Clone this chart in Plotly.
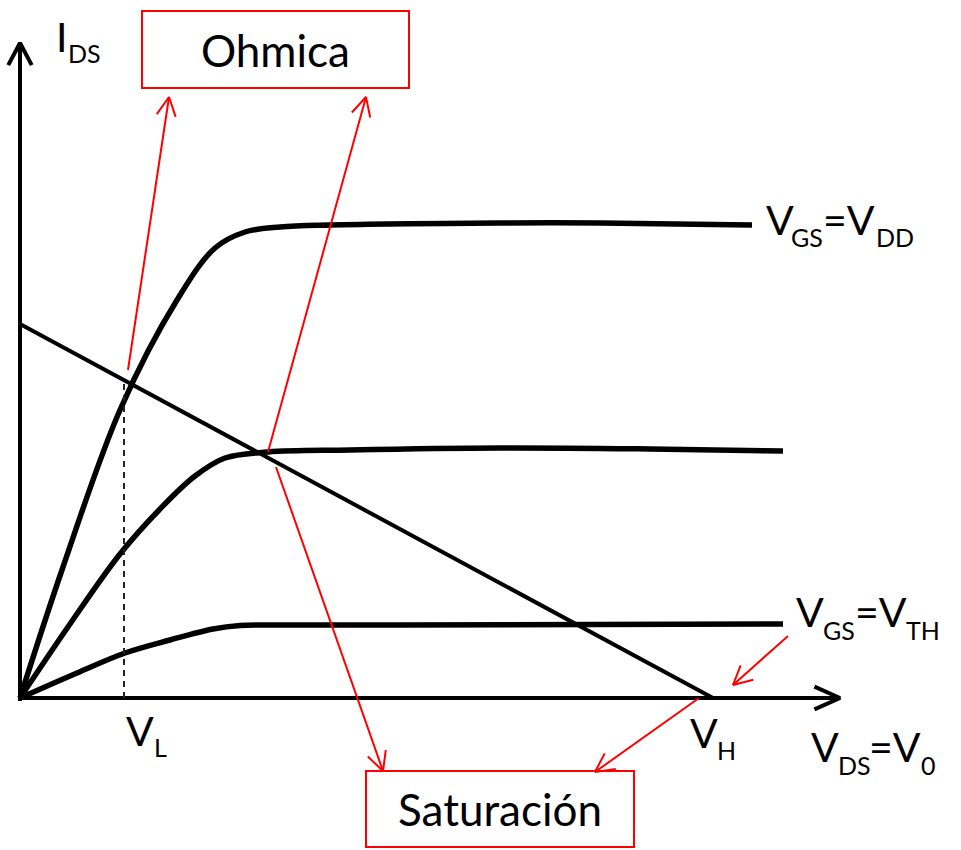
import math
import plotly.graph_objects as go

FONT = "Lato"

# Output characteristics I_DS(V_DS) for three gate voltages (arbitrary units)
vds_dd = [0, 4.3, 10.0, 15.7, 19.5, 22.5, 26.0, 31.0, 48.0, 58.0, 73.2]
ids_dd = [0, 13.1, 28.8, 39.8, 45.0, 46.6, 47.1, 47.3, 47.5, 47.5, 47.3]

vds_mid = [0, 5.0, 10.0, 14.0, 17.5, 20.5, 24.8, 33.0, 48.0, 63.0, 76.3]
ids_mid = [0, 7.4, 14.4, 18.9, 22.2, 24.0, 24.6, 24.8, 25.0, 24.9, 24.7]

vds_th = [0, 5.7, 10.5, 15.0, 19.3, 22.0, 26.0, 38.0, 76.3]
ids_th = [0, 2.5, 4.5, 5.8, 6.9, 7.25, 7.3, 7.3, 7.4]

# Load line: I_DS axis intercept, V_H and V_L
load_i0 = 37.4
v_h = 69.3
v_l = 10.4

# Axis extents
x_axis_end = 82.0
y_axis_end = 65.5

# Label pieces: text, font size (px), left x, baseline y
label_parts = [
    ("I", 41, 3.5, 64.6), ("DS", 25, 4.7, 63.5),
    ("V", 41, 74.5, 46.3), ("GS", 25, 77.0, 45.1), ("=V", 41, 80.2, 46.3), ("DD", 25, 85.5, 45.1),
    ("V", 41, 77.5, 7.1), ("GS", 25, 80.2, 5.8), ("=V", 41, 83.4, 7.1), ("TH", 25, 88.5, 5.8),
    ("V", 41, 66.9, -5.0), ("H", 25, 69.6, -6.2),
    ("V", 41, 79.0, -6.4), ("DS", 25, 81.7, -7.7), ("=V", 41, 84.8, -6.4), ("0", 25, 90.0, -7.7),
    ("V", 41, 10.5, -4.8), ("L", 25, 13.3, -5.9),
]

# Region boxes: name, x0, x1, y0, y1
region_names = ["Ohmica", "Saturación"]
region_boxes = [(12.2, 38.9, 61.0, 68.7), (34.6, 61.4, -14.9, -7.3)]

# Pointer arrows: tail -> tip
pointers = [
    ((10.8, 32.8), (14.9, 60.1)),
    ((24.8, 24.6), (34.6, 60.1)),
    ((25.6, 23.1), (36.3, -7.3)),
    ((67.9, 0.0), (57.5, -7.4)),
    ((76.8, 6.2), (71.3, 1.3)),
]


def head(tail, tip, length, half_angle):
    dx, dy = tip[0] - tail[0], tip[1] - tail[1]
    n = math.hypot(dx, dy)
    bx, by = -dx / n, -dy / n
    xs, ys = [], []
    a = math.radians(half_angle)
    for s in (1, -1):
        c, si = math.cos(s * a), math.sin(s * a)
        xs.append(tip[0] + (bx * c - by * si) * length)
        ys.append(tip[1] + (bx * si + by * c) * length)
    return [xs[0], tip[0], xs[1]], [ys[0], tip[1], ys[1]]


fig = go.Figure()

black = "#000000"
red = "#FF0000"

# Axes with open arrowheads
hx, hy = head((0, 0), (x_axis_end, 0), 2.8, 24)
fig.add_trace(go.Scatter(x=[0, x_axis_end, None] + hx, y=[0, 0, None] + hy, mode="lines",
                         line=dict(color=black, width=4)))
hx, hy = head((0, 0), (0, y_axis_end), 2.5, 28)
fig.add_trace(go.Scatter(x=[0, 0, None] + hx, y=[-0.3, y_axis_end, None] + hy, mode="lines",
                         line=dict(color=black, width=4)))

# Characteristic curves
for vx, iy in [(vds_dd, ids_dd), (vds_mid, ids_mid), (vds_th, ids_th)]:
    fig.add_trace(go.Scatter(x=vx, y=iy, mode="lines",
                             line=dict(color=black, width=5.5, shape="spline", smoothing=1.0)))

# Load line
fig.add_trace(go.Scatter(x=[0, v_h], y=[load_i0, 0], mode="lines", line=dict(color=black, width=4)))

# V_L marker up to the load line
i_at_vl = load_i0 * (1 - v_l / v_h)
fig.add_trace(go.Scatter(x=[v_l, v_l], y=[0, i_at_vl], mode="lines",
                         line=dict(color="#222222", width=2, dash="6px,5px")))

# Red pointers
for tail, tip in pointers:
    hx, hy = head(tail, tip, 2.1, 27)
    fig.add_trace(go.Scatter(x=[tail[0], tip[0], None] + hx, y=[tail[1], tip[1], None] + hy,
                             mode="lines", line=dict(color=red, width=2)))

# Region boxes with names
for name, (x0, x1, y0, y1) in zip(region_names, region_boxes):
    fig.add_shape(type="rect", x0=x0, x1=x1, y0=y0, y1=y1, xref="x", yref="y",
                  line=dict(color=red, width=2), fillcolor="rgba(0,0,0,0)")
    fig.add_annotation(x=(x0 + x1) / 2, y=(y0 + y1) / 2, text=name, showarrow=False,
                       xanchor="center", yanchor="middle",
                       font=dict(family=FONT, size=44, color=black))

for text, size, xl, base in label_parts:
    fig.add_annotation(x=xl, y=base + 0.387 * size / 10, text=text, showarrow=False,
                       xanchor="left", yanchor="middle", borderpad=0,
                       font=dict(family=FONT, size=size, color=black))

fig.update_layout(
    width=961, height=850,
    margin=dict(l=0, r=0, t=0, b=0),
    paper_bgcolor="white", plot_bgcolor="white",
    showlegend=False,
    xaxis=dict(range=[-2.0, 94.1], visible=False, fixedrange=True),
    yaxis=dict(range=[-15.2, 69.8], visible=False, fixedrange=True),
    hovermode=False,
)

fig.write_html("out.html")
